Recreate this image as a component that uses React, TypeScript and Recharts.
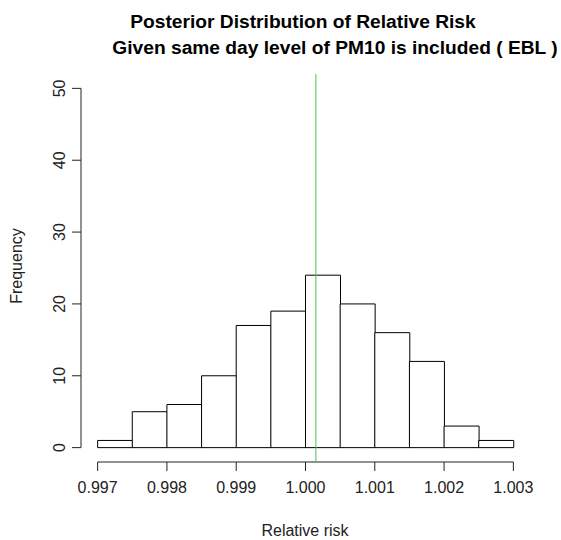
import React from "react";
import {
  ComposedChart, Bar, XAxis, YAxis, ReferenceLine,
} from "recharts";

// histogram of posterior relative risk draws (bins of width 0.0005)
const binMids = [
  0.99725, 0.99775, 0.99825, 0.99875, 0.99925, 0.99975,
  1.00025, 1.00075, 1.00125, 1.00175, 1.00225, 1.00275,
];
const counts = [1, 5, 6, 10, 17, 19, 24, 20, 16, 12, 3, 1];
const xTicks = [0.997, 0.998, 0.999, 1.0, 1.001, 1.002, 1.003];
const yTicks = [0, 10, 20, 30, 40, 50];
const meanRR = 1.00015;

const data = binMids.map((m, i) => ({ mid: m, freq: counts[i] }));

// R-style axis extents (4% padding each side)
const X_MIN = 0.99676;
const X_MAX = 1.00324;
const Y_MIN = -2;
const Y_MAX = 52;

const FONT = "'Liberation Sans', Arial, sans-serif";
const INK = "#222";

const YTick = (props: any) => {
  const { x, y, payload } = props;
  const bx = x - 5;
  return (
    <text
      x={bx}
      y={y}
      transform={`rotate(-90, ${bx}, ${y})`}
      textAnchor="middle"
      fontSize={16}
      fontFamily={FONT}
      fill={INK}
    >
      {payload.value}
    </text>
  );
};

const XTick = (props: any) => {
  const { x, y, payload } = props;
  return (
    <text x={x} y={y + 20} textAnchor="middle" fontSize={16} fontFamily={FONT} fill={INK}>
      {payload.value.toFixed(3)}
    </text>
  );
};

export default function App() {
  return (
    <div style={{ position: "absolute", left: 0, top: 0, width: 561, height: 540, background: "#fff" }}>
      <svg width={561} height={60} style={{ position: "absolute", left: 0, top: 0 }}>
        <text x={303} y={28} textAnchor="middle" fontSize={19.2} fontWeight="bold" fontFamily={FONT} fill="#000">
          Posterior Distribution of Relative Risk
        </text>
        <text x={335} y={54} textAnchor="middle" fontSize={19.2} fontWeight="bold" fontFamily={FONT} fill="#000">
          Given same day level of PM10 is included ( EBL )
        </text>
      </svg>
      <ComposedChart
        width={561}
        height={540}
        data={data}
        margin={{ top: 74, right: 31, bottom: 29, left: 21 }}
        barCategoryGap={0}
        barGap={0}
        style={{ position: "absolute", left: 0, top: 0 }}
      >
        <XAxis
          dataKey="mid"
          type="number"
          domain={[X_MIN, X_MAX]}
          allowDataOverflow
          ticks={xTicks}
          interval={0}
          axisLine={false}
          tickSize={9}
          tickLine={{ stroke: INK }}
          tick={<XTick />}
          height={49}
        />
        <YAxis
          type="number"
          domain={[Y_MIN, Y_MAX]}
          allowDataOverflow
          ticks={yTicks}
          interval={0}
          axisLine={false}
          tickSize={9}
          tickLine={{ stroke: INK }}
          tick={<YTick />}
          width={60}
        />
        <Bar
          dataKey="freq"
          fill="#fff"
          stroke="#000"
          strokeWidth={1}
          isAnimationActive={false}
        />
        <ReferenceLine
          segment={[{ x: xTicks[0], y: Y_MIN }, { x: xTicks[xTicks.length - 1], y: Y_MIN }]}
          stroke={INK}
          ifOverflow="visible"
        />
        <ReferenceLine
          segment={[{ x: X_MIN, y: yTicks[0] }, { x: X_MIN, y: yTicks[yTicks.length - 1] }]}
          stroke={INK}
          ifOverflow="visible"
        />
        <ReferenceLine x={meanRR} stroke="#4fbf4f" strokeWidth={1} />
      </ComposedChart>
      <svg width={561} height={540} style={{ position: "absolute", left: 0, top: 0, pointerEvents: "none" }}>
        <text x={305} y={536} textAnchor="middle" fontSize={16} fontFamily={FONT} fill={INK}>
          Relative risk
        </text>
        <text
          x={22}
          y={266}
          transform="rotate(-90, 22, 266)"
          textAnchor="middle"
          fontSize={16}
          fontFamily={FONT}
          fill={INK}
        >
          Frequency
        </text>
      </svg>
    </div>
  );
}
